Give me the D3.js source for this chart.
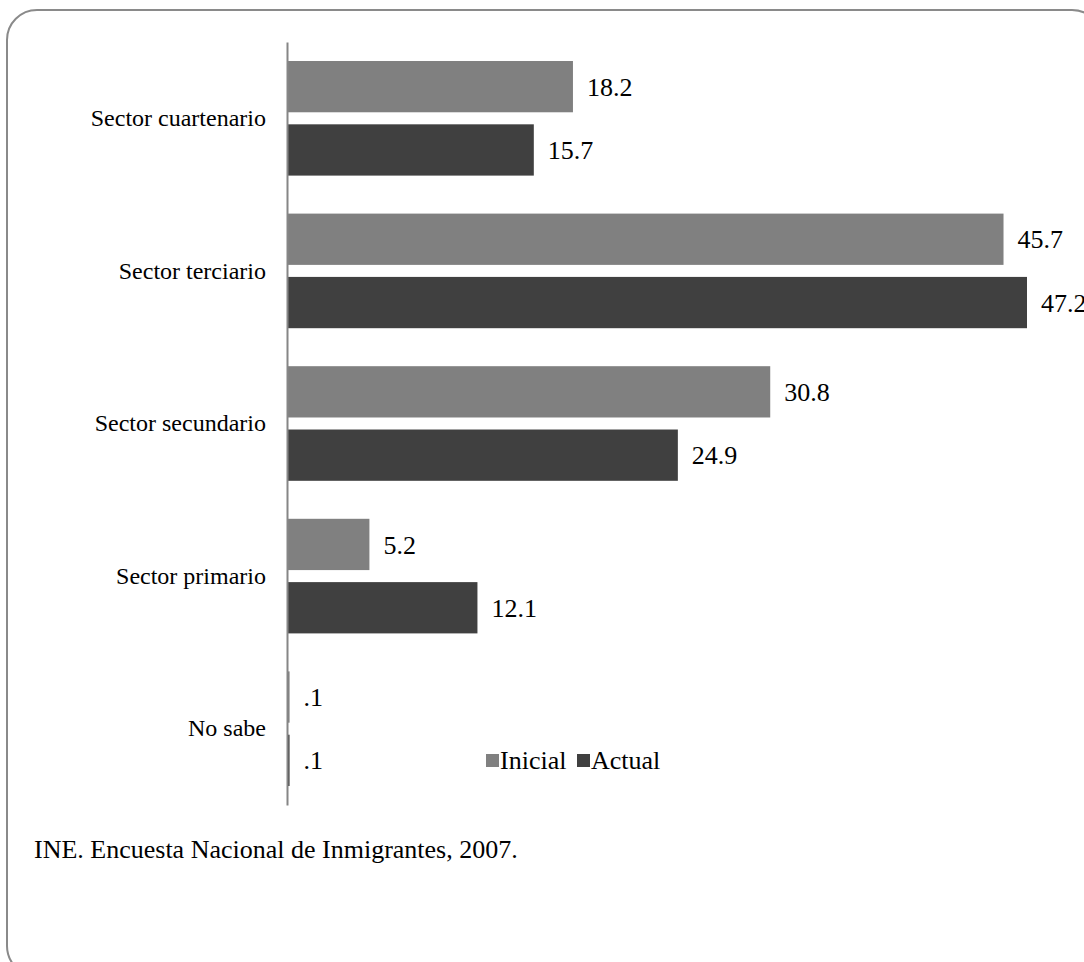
<!DOCTYPE html>
<html>
<head>
<meta charset="utf-8">
<script src="https://cdn.jsdelivr.net/npm/d3@7"></script>
<style>
  html, body { margin: 0; padding: 0; background: #fff; }
  svg { display: block; }
  text { font-family: "Liberation Serif", "Times New Roman", serif; fill: #000; }
</style>
</head>
<body>
<svg id="chart" width="1084" height="962"></svg>
<script>
const categories = ["Sector cuartenario", "Sector terciario", "Sector secundario", "Sector primario", "No sabe"];
const seriesNames = ["Inicial", "Actual"];
const inicialValues = [18.2, 45.7, 30.8, 5.2, 0.1];
const actualValues = [15.7, 47.2, 24.9, 12.1, 0.1];
const valueLabels = { Inicial: ["18.2", "45.7", "30.8", "5.2", ".1"], Actual: ["15.7", "47.2", "24.9", "12.1", ".1"] };
const seriesColors = ["#808080", "#404040"];
const sourceText = "INE. Encuesta Nacional de Inmigrantes, 2007.";

const svg = d3.select("#chart");

// outer rounded frame
svg.append("rect")
  .attr("x", 7).attr("y", 10).attr("width", 1095).attr("height", 966)
  .attr("rx", 30).attr("ry", 30)
  .attr("fill", "none").attr("stroke", "#8a8a8a").attr("stroke-width", 2);

const x0 = 288;
const x = d3.scaleLinear().domain([0, 47.2]).range([x0, 1027]);
const y = d3.scaleBand().domain(categories).range([42, 805]).padding(0);
const yInner = d3.scaleBand().domain(seriesNames).range([0, y.bandwidth()])
  .paddingInner(0.19).paddingOuter(0.3);
const color = d3.scaleOrdinal().domain(seriesNames).range(seriesColors);

const rows = categories.map((c, i) => ({
  cat: c,
  vals: [
    { s: "Inicial", v: inicialValues[i], label: valueLabels.Inicial[i] },
    { s: "Actual", v: actualValues[i], label: valueLabels.Actual[i] }
  ]
}));

const g = svg.selectAll("g.cat").data(rows).join("g")
  .attr("class", "cat")
  .attr("transform", d => `translate(0,${y(d.cat)})`);

g.selectAll("rect").data(d => d.vals).join("rect")
  .attr("x", x(0))
  .attr("y", d => yInner(d.s))
  .attr("width", d => x(d.v) - x(0))
  .attr("height", yInner.bandwidth())
  .attr("fill", d => color(d.s));

g.selectAll("text.val").data(d => d.vals).join("text")
  .attr("class", "val")
  .attr("x", d => x(d.v) + 14)
  .attr("y", d => yInner(d.s) + yInner.bandwidth() / 2)
  .attr("dy", "0.35em")
  .style("font-size", "26px")
  .text(d => d.label);

// category axis
const axis = d3.axisLeft(y).tickSize(0).tickPadding(21);
const ax = svg.append("g").attr("transform", `translate(${x0 - 1},0)`).call(axis);
ax.select(".domain").attr("stroke", "#868686").attr("stroke-width", 2);
ax.selectAll(".tick text")
  .style("font-family", '"Liberation Serif", "Times New Roman", serif')
  .style("font-size", "24px").attr("fill", "#000");

// legend
const legendItems = [
  { s: "Inicial", x: 486 },
  { s: "Actual", x: 577 }
];
const lg = svg.append("g").selectAll("g").data(legendItems).join("g")
  .attr("transform", d => `translate(${d.x},760)`);
lg.append("rect").attr("x", 0).attr("y", -6).attr("width", 13).attr("height", 13)
  .attr("fill", d => color(d.s));
lg.append("text").attr("x", 14).attr("y", 0).attr("dy", "0.35em")
  .style("font-size", "26px").text(d => d.s);

// source
svg.append("text").attr("x", 34).attr("y", 849).attr("dy", "0.35em")
  .style("font-size", "26px").text(sourceText);
</script>
</body>
</html>
